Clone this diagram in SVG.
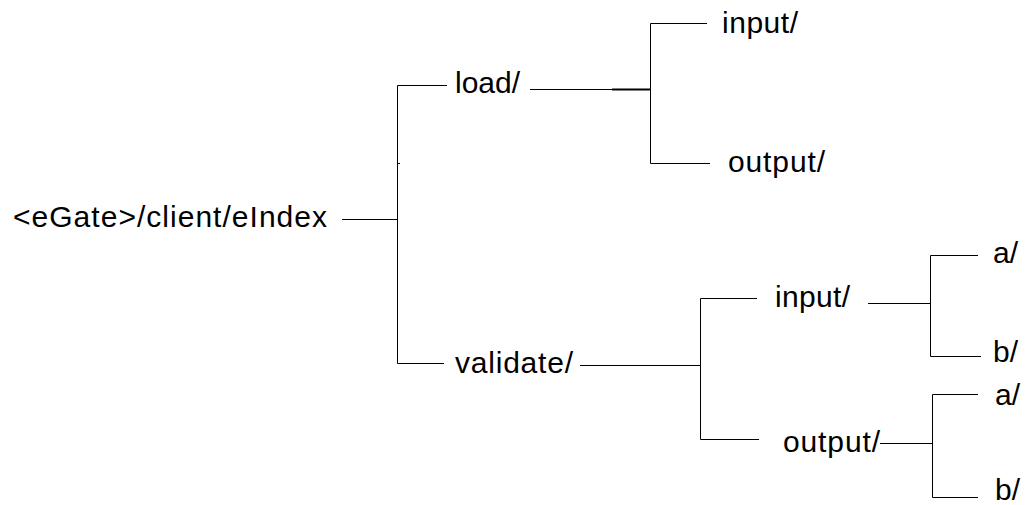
<svg xmlns="http://www.w3.org/2000/svg" width="1028" height="505" viewBox="0 0 1028 505">
<style>
text{font-family:"Liberation Sans",Arial,sans-serif;font-size:30px;fill:#000}
.c line,.c polyline{stroke:#000;stroke-width:1;fill:none}
.c .thick{stroke-width:2}
</style>
<rect width="1028" height="505" fill="#fff"/>
<g class="c" id="connectors">
<line x1="342" y1="219.5" x2="397.5" y2="219.5"/>
<polyline points="447,85.5 397.5,85.5 397.5,363.5 444,363.5"/>
<line x1="397.5" y1="163.5" x2="400" y2="163.5"/>
<line x1="530" y1="89.5" x2="612" y2="89.5"/>
<line class="thick" x1="612" y1="89.5" x2="650" y2="89.5"/>
<polyline points="707,23.5 650.5,23.5 650.5,163.5 710,163.5"/>
<line x1="580" y1="365.5" x2="700.5" y2="365.5"/>
<polyline points="757,298.5 700.5,298.5 700.5,439.5 759,439.5"/>
<line x1="868" y1="303.5" x2="930.5" y2="303.5"/>
<polyline points="978,255.5 930.5,255.5 930.5,356.5 981,356.5"/>
<line x1="880" y1="443.5" x2="932.5" y2="443.5"/>
<polyline points="978,394.5 932.5,394.5 932.5,497.5 978,497.5"/>
</g>
<g id="root"><text x="13" y="227" textLength="314">&lt;eGate&gt;/client/eIndex</text></g>
<g id="load"><text x="455" y="93" textLength="65">load/</text></g>
<g id="load-input"><text x="722" y="33" textLength="76">input/</text></g>
<g id="load-output"><text x="728" y="172" textLength="97">output/</text></g>
<g id="validate"><text x="455" y="373" textLength="118">validate/</text></g>
<g id="validate-input"><text x="775" y="307" textLength="75">input/</text></g>
<g id="validate-output"><text x="783" y="452" textLength="97">output/</text></g>
<g id="vi-a"><text x="993" y="263">a/</text></g>
<g id="vi-b"><text x="993" y="362">b/</text></g>
<g id="vo-a"><text x="995" y="405">a/</text></g>
<g id="vo-b"><text x="995" y="500">b/</text></g>
</svg>
